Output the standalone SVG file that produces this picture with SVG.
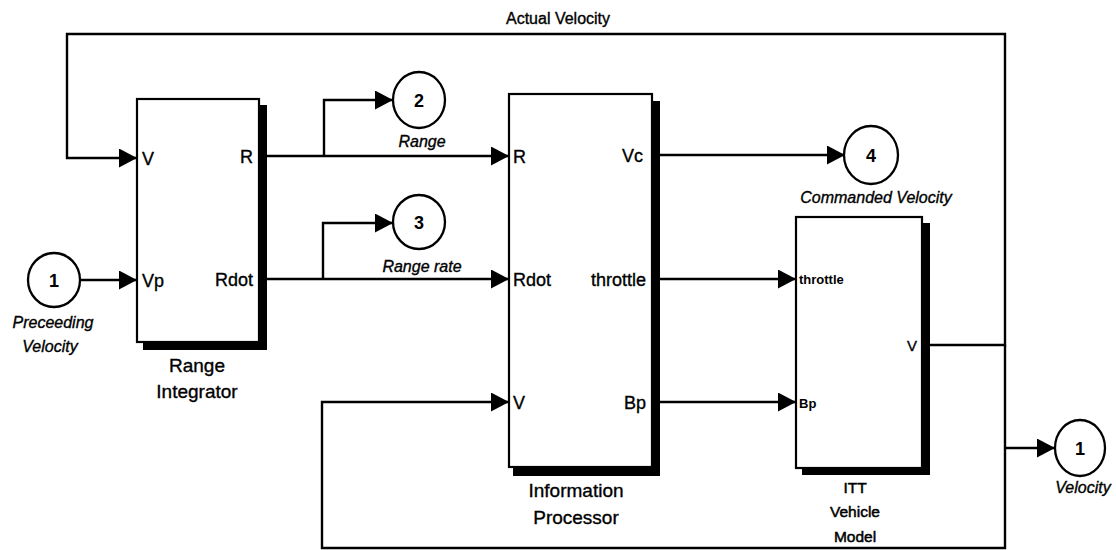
<svg xmlns="http://www.w3.org/2000/svg" width="1116" height="550" viewBox="0 0 1116 550">
<defs>
<marker id="arr" markerUnits="userSpaceOnUse" markerWidth="18" markerHeight="19" refX="18" refY="9.5" orient="auto">
<path d="M0,0 L18,9.5 L0,19 z" fill="#000"/>
</marker>
</defs>
<style>
.blk{fill:#fff;stroke:#000;stroke-width:2.2}
.shd{fill:#000}
.cir{fill:#fff;stroke:#000;stroke-width:2.3}
.ln{fill:none;stroke:#000;stroke-width:2.4}
.t{font-family:"Liberation Sans",Arial,sans-serif;fill:#000;stroke:#000;stroke-width:0.35}
.port{font-size:18px}
.port2{font-size:13px;font-weight:bold;stroke-width:0}
.num{font-size:18px;font-weight:bold;text-anchor:middle;stroke-width:0}
.it{font-size:16px;font-style:italic;text-anchor:middle}
.name{font-size:19px;text-anchor:middle}
.name2{font-size:15.5px;text-anchor:middle;stroke-width:0.5}
</style>
<rect width="1116" height="550" fill="#fff"/>
<g id="connectors">
<path class="ln" d="M930,345 H1005 V34 H67 V158 H137" marker-end="url(#arr)"/>
<path class="ln" d="M1005,345 V548 H322 V402 H509" marker-end="url(#arr)"/>
<path class="ln" d="M1005,448 H1055" marker-end="url(#arr)"/>
<path class="ln" d="M80,280 H137" marker-end="url(#arr)"/>
<path class="ln" d="M255,156 H509" marker-end="url(#arr)"/>
<path class="ln" d="M324,156 V100 H393" marker-end="url(#arr)"/>
<path class="ln" d="M255,279 H509" marker-end="url(#arr)"/>
<path class="ln" d="M323,279 V223 H393" marker-end="url(#arr)"/>
<path class="ln" d="M648,155 H845" marker-end="url(#arr)"/>
<path class="ln" d="M648,279 H796" marker-end="url(#arr)"/>
<path class="ln" d="M648,402 H796" marker-end="url(#arr)"/>
<text class="t" x="558" y="24" font-size="16" text-anchor="middle">Actual Velocity</text>
</g>
<g id="in1">
<ellipse class="cir" cx="54" cy="280" rx="26" ry="27"/>
<text class="t num" x="54" y="287">1</text>
<text class="t it" x="53" y="328">Preceeding</text>
<text class="t it" x="50" y="352">Velocity</text>
</g>
<g id="range-integrator">
<rect class="shd" x="259" y="105" width="8" height="245"/>
<rect class="shd" x="143" y="342" width="124" height="8"/>
<rect class="blk" x="137" y="99" width="122" height="243"/>
<text class="t port" x="142" y="165">V</text>
<text class="t port" x="142" y="287">Vp</text>
<text class="t port" x="253" y="163" text-anchor="end">R</text>
<text class="t port" x="253" y="286" text-anchor="end">Rdot</text>
<text class="t name" x="197" y="372">Range</text>
<text class="t name" x="197" y="398">Integrator</text>
</g>
<g id="out2">
<ellipse class="cir" cx="419" cy="100" rx="26" ry="28"/>
<text class="t num" x="419" y="107">2</text>
<text class="t it" x="422" y="147">Range</text>
</g>
<g id="out3">
<ellipse class="cir" cx="419" cy="222" rx="26" ry="27"/>
<text class="t num" x="419" y="229">3</text>
<text class="t it" x="422" y="272">Range rate</text>
</g>
<g id="information-processor">
<rect class="shd" x="652" y="101" width="8" height="375"/>
<rect class="shd" x="513" y="467" width="147" height="9"/>
<rect class="blk" x="509" y="94" width="143" height="373"/>
<text class="t port" x="513" y="163">R</text>
<text class="t port" x="513" y="286">Rdot</text>
<text class="t port" x="513" y="409">V</text>
<text class="t port" x="643" y="162" text-anchor="end">Vc</text>
<text class="t port" x="646" y="286" text-anchor="end">throttle</text>
<text class="t port" x="646" y="409" text-anchor="end">Bp</text>
<text class="t name" x="576" y="497">Information</text>
<text class="t name" x="576" y="524">Processor</text>
</g>
<g id="out4">
<ellipse class="cir" cx="871" cy="155" rx="27" ry="29"/>
<text class="t num" x="871" y="162">4</text>
<text class="t it" x="876" y="203" font-size="16.5">Commanded Velocity</text>
</g>
<g id="itt-vehicle-model">
<rect class="shd" x="922" y="223" width="8" height="252"/>
<rect class="shd" x="802" y="468" width="128" height="7"/>
<rect class="blk" x="796" y="217" width="126" height="251"/>
<text class="t port2" x="799" y="284">throttle</text>
<text class="t port2" x="799" y="408">Bp</text>
<text class="t" x="917" y="351" font-size="15" text-anchor="end">V</text>
<text class="t name2" x="855" y="493">ITT</text>
<text class="t name2" x="855" y="517">Vehicle</text>
<text class="t name2" x="855" y="542">Model</text>
</g>
<g id="out1">
<ellipse class="cir" cx="1080" cy="448" rx="25" ry="28"/>
<text class="t num" x="1080" y="455">1</text>
<text class="t it" x="1083" y="493">Velocity</text>
</g>
</svg>
